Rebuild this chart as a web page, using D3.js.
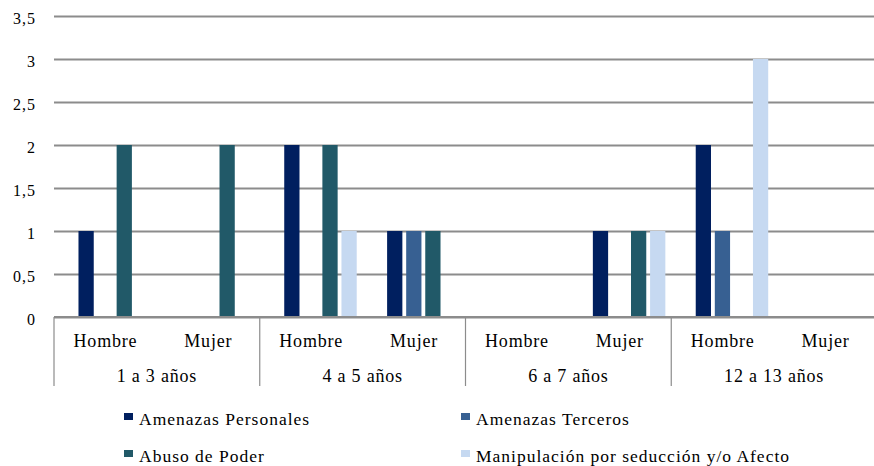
<!DOCTYPE html>
<html><head><meta charset="utf-8">
<script src="https://cdn.jsdelivr.net/npm/d3@7"></script>
<style>body{margin:0;background:#fff}</style>
</head><body><svg id="c" width="874" height="466"></svg>
<script>
const ageGroups = ["1 a 3 años","4 a 5 años","6 a 7 años","12 a 13 años"];
const sexes = ["Hombre","Mujer"];
const seriesNames = ["Amenazas Personales","Amenazas Terceros","Abuso de Poder","Manipulación por seducción y/o Afecto"];
const amenazasPersonales = [1,0,2,1,0,1,2,0];
const amenazasTerceros   = [0,0,0,1,0,0,1,0];
const abusoDePoder       = [2,2,2,1,0,1,0,0];
const manipulacion       = [0,0,1,0,0,1,3,0];
const yTicks = [0,0.5,1,1.5,2,2.5,3,3.5];
const colors = ["#001f5f","#376092","#215968","#c6d9f1"];
const FONT = "'Liberation Serif', 'Times New Roman', serif";

const values = [amenazasPersonales, amenazasTerceros, abusoDePoder, manipulacion];
const cats = [];
ageGroups.forEach(a => sexes.forEach(s => cats.push(a + "|" + s)));

const svg = d3.select("#c");
const L = 54, R = 877, T = 16, B = 317;
const x0 = d3.scaleBand().domain(cats).range([L, R]);
// 5 slots per category (first slot empty in original chart)
const x1 = d3.scaleBand().domain([0,1,2,3,4]).range([3.5, x0.bandwidth() - 4]).paddingInner(0.2).paddingOuter(0.1);
const y = d3.scaleLinear().domain([0,3.5]).range([B, T]);

// gridlines
const yAxis = d3.axisLeft(y).tickValues(yTicks).tickFormat(d => String(d).replace(".", ",")).tickSize(-(R - L)).tickPadding(18);
const gy = svg.append("g").attr("transform", `translate(${L},0)`).call(yAxis);
gy.attr("font-family", FONT);
gy.select(".domain").remove();
gy.selectAll(".tick line").attr("stroke", "#8c8c8c").attr("stroke-width", 2);
gy.selectAll(".tick text").attr("font-family", FONT).attr("font-size", 16).attr("letter-spacing", 1)
  .attr("dy", "0.45em").attr("fill", "#000");

// bars
values.forEach((vals, si) => {
  svg.append("g").selectAll("rect").data(vals).join("rect")
    .attr("x", (d, i) => x0(cats[i]) + x1(si + 1))
    .attr("width", x1.bandwidth())
    .attr("y", d => y(d))
    .attr("height", d => B - y(d))
    .attr("fill", colors[si]);
});

// baseline & category axis
svg.append("line").attr("x1", L).attr("x2", R).attr("y1", B).attr("y2", B).attr("stroke", "#8c8c8c").attr("stroke-width", 2);
const sepX = ageGroups.map((a, i) => x0(a + "|Hombre")).concat([R]);
svg.append("g").selectAll("line").data(sepX).join("line")
  .attr("x1", d => d).attr("x2", d => d).attr("y1", B).attr("y2", 386)
  .attr("stroke", "#8c8c8c").attr("stroke-width", 1.2);

svg.append("g").selectAll("text").data(cats).join("text")
  .attr("x", d => x0(d) + x0.bandwidth() / 2).attr("y", 347)
  .attr("text-anchor", "middle").attr("font-family", FONT).attr("font-size", 18).attr("letter-spacing", 0.8)
  .text(d => d.split("|")[1]);
svg.append("g").selectAll("text").data(ageGroups).join("text")
  .attr("x", d => x0(d + "|Hombre") + x0.bandwidth()).attr("y", 381.5)
  .attr("text-anchor", "middle").attr("font-family", FONT).attr("font-size", 18).attr("letter-spacing", 0.8)
  .text(d => d);

// legend
const legPos = [[124,425],[461,425],[124,462],[461,462]];
seriesNames.forEach((n, i) => {
  const [lx, ly] = legPos[i];
  svg.append("rect").attr("x", lx).attr("y", ly - 12).attr("width", 9).attr("height", 7).attr("fill", colors[i]);
  svg.append("text").attr("x", lx + 15).attr("y", ly).attr("font-family", FONT).attr("font-size", 17.5).attr("letter-spacing", 1).text(n);
});
</script></body></html>
